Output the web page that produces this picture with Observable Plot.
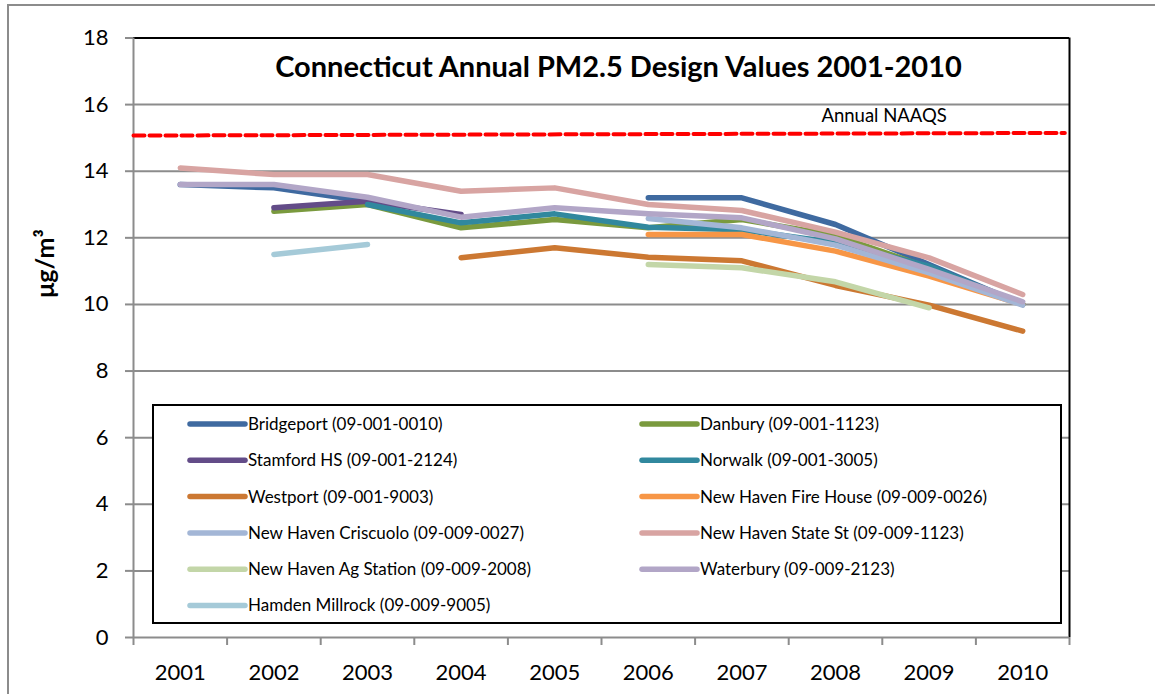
<!DOCTYPE html>
<html><head><meta charset="utf-8">
<script src="https://cdn.jsdelivr.net/npm/d3@7"></script>
<script src="https://cdn.jsdelivr.net/npm/@observablehq/plot@0.6"></script>
<style>
body{margin:0;background:#fff;font-family:Lato, sans-serif}
#wrap{position:relative;width:1155px;height:694px;overflow:hidden;background:#fff}
#frame{position:absolute;left:7px;top:4px;width:1200px;height:800px;border-left:2px solid #8c8c8c;border-top:2px solid #8c8c8c}
#chart{position:absolute;left:0;top:0}
</style></head><body><div id="wrap"><div id="frame"></div><div id="chart"></div></div>
<script>
const years = [2001, 2002, 2003, 2004, 2005, 2006, 2007, 2008, 2009, 2010];
const sites = [
  "Bridgeport (09-001-0010)", "Danbury (09-001-1123)",
  "Stamford HS (09-001-2124)", "Norwalk (09-001-3005)",
  "Westport (09-001-9003)", "New Haven Fire House (09-009-0026)",
  "New Haven Criscuolo (09-009-0027)", "New Haven State St (09-009-1123)",
  "New Haven Ag Station (09-009-2008)", "Waterbury (09-009-2123)",
  "Hamden Millrock (09-009-9005)"
];
const colors = ["#3F6AA0", "#7A9A3E", "#634C88", "#31889E", "#CC7832", "#F79646",
  "#A3B6D6", "#D8A4A2", "#C3D6A8", "#B2A6C7", "#A5CAD8"];
const bridgeport = [13.6, 13.5, 13.1, null, null, 13.2, 13.2, 12.4, 11.2, 10.0];
const danbury    = [null, 12.8, 13.0, 12.3, 12.55, 12.3, 12.55, 12.07, 11.1, 10.0];
const stamford   = [null, 12.9, 13.1, 12.7, null, null, null, null, null, null];
const norwalk    = [null, null, 13.0, 12.45, 12.72, 12.32, 12.24, 11.85, 11.15, 10.0];
const westport   = [null, null, null, 11.4, 11.7, 11.42, 11.31, 10.57, 9.98, 9.2];
const fireHouse  = [null, null, null, null, null, 12.1, 12.1, 11.6, 10.85, 10.0];
const criscuolo  = [null, null, null, null, null, 12.58, 12.3, 11.78, 10.95, 9.98];
const stateSt    = [14.1, 13.9, 13.9, 13.4, 13.5, 13.0, 12.82, 12.17, 11.4, 10.3];
const agStation  = [null, null, null, null, null, 11.2, 11.1, 10.68, 9.9, null];
const waterbury  = [13.6, 13.6, 13.22, 12.62, 12.9, 12.72, 12.6, 11.97, 11.05, 10.08];
const hamden     = [null, 11.5, 11.8, null, null, null, null, null, null, null];
const series = [bridgeport, danbury, stamford, norwalk, westport, fireHouse,
  criscuolo, stateSt, agStation, waterbury, hamden];
const yTicks = [0, 2, 4, 6, 8, 10, 12, 14, 16, 18];
const gridValues = [2, 4, 6, 8, 10, 12, 14, 16];
const naaqsValues = [15.07, 15.15];
const naaqsLabel = "Annual NAAQS";
const title = "Connecticut Annual PM2.5 Design Values 2001-2010";
const yLabel = "μg/m³";

const rows = [];
series.forEach((vals, i) => vals.forEach((v, j) => rows.push({site: sites[i], year: years[j], value: v})));
const naaqs = [{x: 2000.5, y: naaqsValues[0]}, {x: 2010.45, y: naaqsValues[1]}];
const boundaries = [2000.5, ...years.map(y => y + 0.5)];

const chart = Plot.plot({
  width: 1155, height: 694,
  marginLeft: 133, marginRight: 86, marginTop: 37.5, marginBottom: 57,
  style: {fontFamily: "Lato, sans-serif", background: "transparent", color: "#000"},
  x: {domain: [2000.5, 2010.5]},
  y: {domain: [0, 18]},
  color: {domain: sites, range: colors},
  marks: [
    Plot.ruleY(gridValues, {stroke: "#8c8c8c", strokeWidth: 2}),
    Plot.ruleY([18], {stroke: "#000", strokeWidth: 2}),
    Plot.ruleX([2010.5], {stroke: "#000", strokeWidth: 2}),
    Plot.ruleX([2000.5], {stroke: "#8c8c8c", strokeWidth: 2}),
    Plot.ruleY([0], {stroke: "#8c8c8c", strokeWidth: 2}),
    Plot.axisY(yTicks, {tickSize: 8, tickPadding: 17, fontSize: 22, stroke: "#8c8c8c", strokeWidth: 2, label: null}),
    Plot.axisX(boundaries, {tickSize: 8, stroke: "#8c8c8c", strokeWidth: 2, tickFormat: () => "", label: null}),
    Plot.axisX(years, {tickSize: 0, tickPadding: 27, fontSize: 22, tickFormat: d => String(d), label: null}),
    Plot.line(naaqs, {x: "x", y: "y", stroke: "#FF0000", strokeWidth: 4, strokeDasharray: "11,5"}),
    Plot.line(rows, {x: "year", y: "value", z: "site", stroke: "site", strokeWidth: 5.5,
      strokeLinecap: "round", strokeLinejoin: "round"}),
    Plot.text([naaqsLabel], {x: () => 2008.52, y: () => 15.67, text: d => d, fontSize: 18.5}),
    Plot.text([title], {frameAnchor: "top", dx: 17, dy: 29.5, fontSize: 29, fontWeight: "bold", lineAnchor: "middle"}),
    Plot.text([yLabel], {frameAnchor: "left", rotate: -90, dx: -88, dy: -40, fontSize: 25, fontWeight: "bold"})
  ]
});
document.getElementById("chart").appendChild(chart);

// legend inside the plot area
const svg = d3.select(chart);
const lg = svg.append("g").attr("font-family", "Lato, sans-serif").attr("font-size", 17)
  .attr("text-anchor", "start").attr("fill", "#000");
lg.append("rect").attr("x", 153).attr("y", 405).attr("width", 908).attr("height", 218)
  .attr("fill", "#fff").attr("stroke", "#000").attr("stroke-width", 2);
sites.forEach((s, i) => {
  const col = i % 2, row = Math.floor(i / 2);
  const x0 = col === 0 ? 190 : 642;
  const yy = 424 + row * 36.3;
  lg.append("line").attr("x1", x0).attr("x2", x0 + 55).attr("y1", yy).attr("y2", yy)
    .attr("stroke", colors[i]).attr("stroke-width", 5.5).attr("stroke-linecap", "round");
  lg.append("text").attr("x", x0 + 58).attr("y", yy).attr("dy", "0.35em").text(s);
});
</script>
</body></html>
